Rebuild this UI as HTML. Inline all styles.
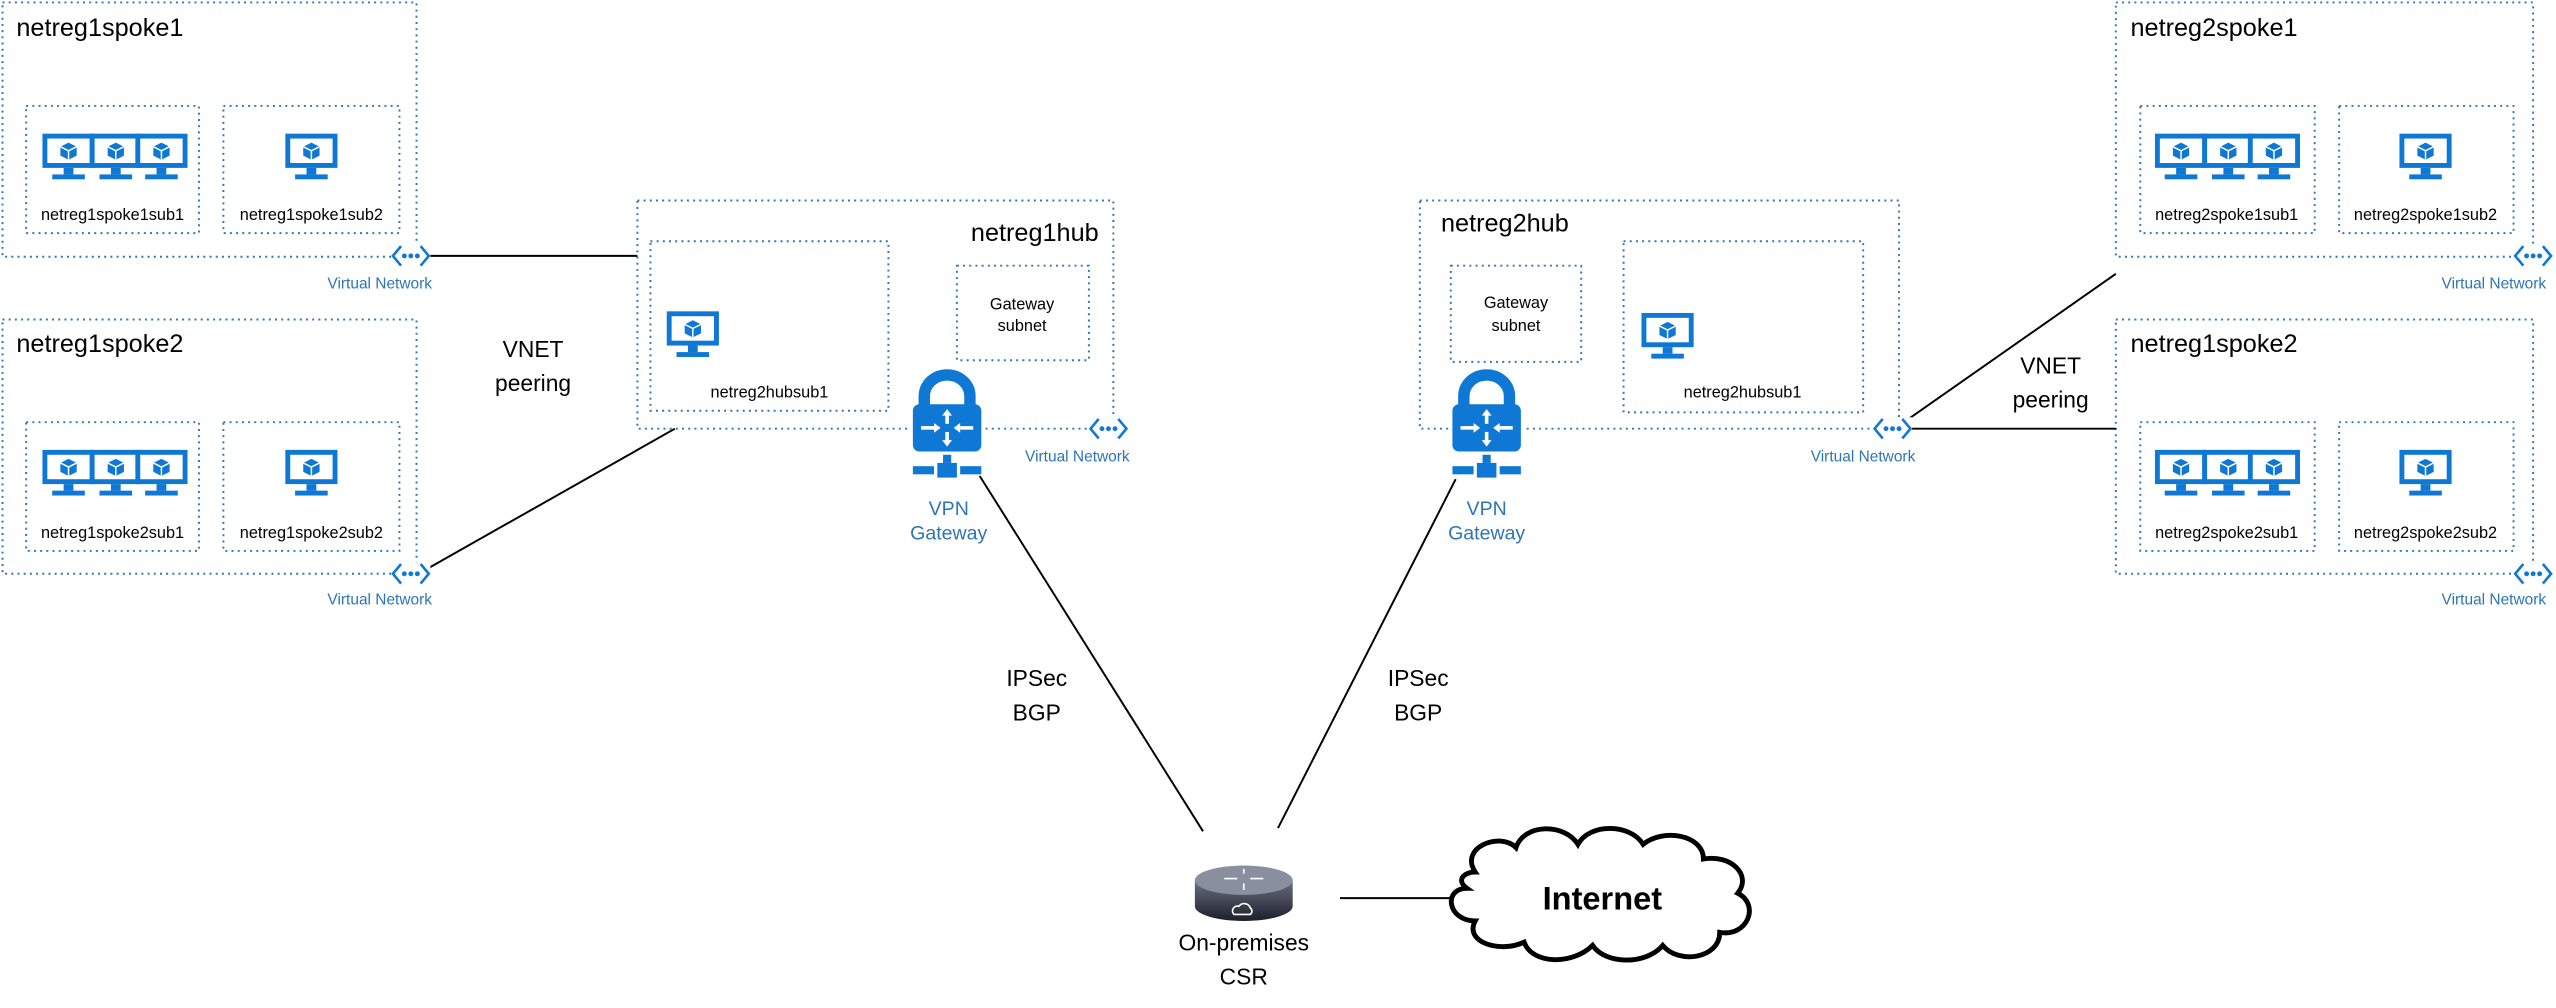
<!DOCTYPE html>
<html><head><meta charset="utf-8"><style>
html,body{margin:0;padding:0;background:#fff;}
svg{display:block;}
text{font-family:"Liberation Sans",sans-serif;}
</style></head><body>
<svg width="2556" height="1008" viewBox="0 0 1568 618.4" xmlns="http://www.w3.org/2000/svg">
<defs>
<g id="mon">
  <rect x="0" y="0" width="32" height="21" fill="#0f78d4"/>
  <rect x="3" y="3" width="26" height="15" fill="#fff"/>
  <polygon points="16,5.5 21,8 21,13.5 16,16 11,13.5 11,8" fill="#0f78d4"/>
  <polyline points="11,8 16,10.5 21,8" fill="none" stroke="#fff" stroke-width="0.9"/>
  <line x1="16" y1="10.5" x2="16" y2="16" stroke="#fff" stroke-width="0.9"/>
  <rect x="13" y="21" width="6" height="4" fill="#0f78d4"/>
  <rect x="6" y="25" width="20" height="3" fill="#0f78d4"/>
</g>
<g id="mon3">
  <use href="#mon" x="0" y="0"/>
  <use href="#mon" x="29" y="0"/>
  <use href="#mon" x="57" y="0"/>
</g>
<g id="vn">
  <polyline points="-6,-6 -11,0 -6,6" fill="none" stroke="#0f78d4" stroke-width="1.6"/>
  <polyline points="6,-6 11,0 6,6" fill="none" stroke="#0f78d4" stroke-width="1.6"/>
  <circle cx="-4" cy="0" r="1.5" fill="#0f78d4"/>
  <circle cx="0" cy="0" r="1.5" fill="#0f78d4"/>
  <circle cx="4" cy="0" r="1.5" fill="#0f78d4"/>
</g>
<g id="lock">
  <path d="M-14,20 L-14,13 A14,13 0 0 1 14,13 L14,20" fill="none" stroke="#0f78d4" stroke-width="7"/>
  <rect x="-21" y="18" width="42" height="29" rx="4" fill="#0f78d4"/>
  <g stroke="#fff" stroke-width="2.2" fill="#fff">
    <line x1="0" y1="24" x2="0" y2="30"/><polygon points="-3,25 3,25 0,21" stroke="none"/>
    <line x1="0" y1="35" x2="0" y2="41"/><polygon points="-3,40 3,40 0,44" stroke="none"/>
    <line x1="-16" y1="32.5" x2="-8" y2="32.5"/><polygon points="-8,29.5 -8,35.5 -4,32.5" stroke="none"/>
    <line x1="16" y1="32.5" x2="8" y2="32.5"/><polygon points="8,29.5 8,35.5 4,32.5" stroke="none"/>
  </g>
  <rect x="-2.5" y="49" width="5" height="5" fill="#0f78d4"/>
  <rect x="-6" y="54" width="12" height="9" fill="#0f78d4"/>
  <rect x="-21" y="56" width="13" height="5" fill="#0f78d4"/>
  <rect x="8" y="56" width="13" height="5" fill="#0f78d4"/>
</g>
</defs>

<g fill="none" stroke="#2e75b6" stroke-width="1.2" stroke-dasharray="1.2 2.6">
  <rect x="1.5" y="1.5" width="254" height="156"/>
  <rect x="16" y="65" width="106" height="78"/>
  <rect x="137" y="65" width="108" height="78"/>
  <rect x="1.5" y="196" width="254" height="156"/>
  <rect x="16" y="259" width="106" height="79"/>
  <rect x="137" y="259" width="108" height="79"/>
  <rect x="391" y="123" width="292" height="140"/>
  <rect x="399" y="148" width="146" height="104"/>
  <rect x="587" y="163" width="81" height="58"/>
  <rect x="871" y="123" width="294" height="140"/>
  <rect x="996" y="148" width="147" height="105"/>
  <rect x="890" y="163" width="80" height="59"/>
  <rect x="1298" y="1.5" width="256" height="156"/>
  <rect x="1313" y="65" width="107" height="78"/>
  <rect x="1435" y="65" width="107" height="78"/>
  <rect x="1298" y="196" width="256" height="156"/>
  <rect x="1313" y="259" width="107" height="79"/>
  <rect x="1435" y="259" width="107" height="79"/>
</g>

<g stroke="#000" stroke-width="1.2">
  <line x1="262" y1="157" x2="391" y2="157"/>
  <line x1="262" y1="349" x2="414" y2="263"/>
  <line x1="1168" y1="259" x2="1298" y2="168"/>
  <line x1="1172" y1="263" x2="1298" y2="263"/>
  <line x1="601" y1="292" x2="738" y2="510"/>
  <line x1="893" y1="294" x2="784" y2="508"/>
  <line x1="822" y1="551" x2="893" y2="551"/>
</g>

<use href="#mon3" x="26" y="82"/>
<use href="#mon" x="175" y="82"/>
<use href="#mon3" x="26" y="276"/>
<use href="#mon" x="175" y="276"/>
<use href="#mon3" x="1322" y="82"/>
<use href="#mon" x="1472" y="82"/>
<use href="#mon3" x="1322" y="276"/>
<use href="#mon" x="1472" y="276"/>
<use href="#mon" x="409" y="191"/>
<use href="#mon" x="1007" y="192"/>

<g>
  <rect x="240" y="150" width="24" height="14" fill="#fff"/><use href="#vn" x="252" y="157"/>
  <rect x="240" y="345" width="24" height="14" fill="#fff"/><use href="#vn" x="252" y="352"/>
  <rect x="668" y="256" width="24" height="14" fill="#fff"/><use href="#vn" x="680" y="263"/>
  <rect x="1149" y="256" width="24" height="14" fill="#fff"/><use href="#vn" x="1161" y="263"/>
  <rect x="1542" y="150" width="24" height="14" fill="#fff"/><use href="#vn" x="1554" y="157"/>
  <rect x="1542" y="345" width="24" height="14" fill="#fff"/><use href="#vn" x="1554" y="352"/>
</g>

<rect x="558" y="255" width="46" height="16" fill="#fff"/>
<use href="#lock" x="581" y="230"/>
<rect x="889" y="255" width="46" height="16" fill="#fff"/>
<use href="#lock" x="912" y="230"/>

<g font-size="15.5" fill="#000">
  <text x="10" y="22">netreg1spoke1</text>
  <text x="10" y="216">netreg1spoke2</text>
  <text x="1307" y="22">netreg2spoke1</text>
  <text x="1307" y="216">netreg1spoke2</text>
  <text x="674" y="148" text-anchor="end">netreg1hub</text>
  <text x="884" y="142">netreg2hub</text>
</g>
<g font-size="10" fill="#000" text-anchor="middle">
  <text x="69" y="135">netreg1spoke1sub1</text>
  <text x="191" y="135">netreg1spoke1sub2</text>
  <text x="69" y="330">netreg1spoke2sub1</text>
  <text x="191" y="330">netreg1spoke2sub2</text>
  <text x="1366" y="135">netreg2spoke1sub1</text>
  <text x="1488" y="135">netreg2spoke1sub2</text>
  <text x="1366" y="330">netreg2spoke2sub1</text>
  <text x="1488" y="330">netreg2spoke2sub2</text>
  <text x="472" y="244">netreg2hubsub1</text>
  <text x="1069" y="244">netreg2hubsub1</text>
  <text x="627" y="190">Gateway</text>
  <text x="627" y="203">subnet</text>
  <text x="930" y="189">Gateway</text>
  <text x="930" y="203">subnet</text>
</g>
<g font-size="9.5" fill="#2e75b6" text-anchor="end">
  <text x="265" y="177">Virtual Network</text>
  <text x="265" y="371">Virtual Network</text>
  <text x="693" y="283">Virtual Network</text>
  <text x="1175" y="283">Virtual Network</text>
  <text x="1562" y="177">Virtual Network</text>
  <text x="1562" y="371">Virtual Network</text>
</g>
<g font-size="12" fill="#2e75b6" text-anchor="middle">
  <text x="582" y="316">VPN</text>
  <text x="582" y="331">Gateway</text>
  <text x="912" y="316">VPN</text>
  <text x="912" y="331">Gateway</text>
</g>
<g font-size="14" fill="#000" text-anchor="middle">
  <text x="327" y="219">VNET</text>
  <text x="327" y="240">peering</text>
  <text x="1258" y="229">VNET</text>
  <text x="1258" y="250">peering</text>
  <text x="636" y="421">IPSec</text>
  <text x="636" y="442">BGP</text>
  <text x="870" y="421">IPSec</text>
  <text x="870" y="442">BGP</text>
  <text x="763" y="583">On-premises</text>
  <text x="763" y="604">CSR</text>
</g>

<defs>
  <linearGradient id="rg" x1="0" x2="0" y1="0" y2="1">
    <stop offset="0" stop-color="#6a6f80"/><stop offset="1" stop-color="#1c1f2c"/>
  </linearGradient>
</defs>
<path d="M733,540 L733,556 A30,9 0 0 0 793,556 L793,540 Z" fill="url(#rg)"/>
<ellipse cx="763" cy="540" rx="30" ry="9" fill="#8a8fa0"/>
<g stroke="#fff" stroke-width="1" fill="none">
  <line x1="751" y1="539" x2="759" y2="539"/><line x1="767" y1="539" x2="775" y2="539"/>
  <line x1="763" y1="533" x2="763" y2="536"/><line x1="763" y1="542" x2="763" y2="546"/>
  <path d="M757,561 a3,3 0 0 1 3,-5 a4,4 0 0 1 7,1 a2.5,2.5 0 0 1 0,4 Z"/>
</g>

<path d="M905,535 C895,520 920,510 930,520 C935,505 960,505 968,518 C975,505 1000,505 1008,518 C1020,508 1045,512 1045,527 C1062,524 1075,537 1066,548 C1080,555 1072,575 1055,572 C1055,588 1030,592 1020,580 C1010,592 985,592 977,580 C965,592 940,592 935,578 C920,585 898,578 905,565 C888,565 885,545 900,545 C893,540 898,535 905,535 Z" fill="#fff" stroke="#000" stroke-width="3"/>
<text x="983" y="558" font-size="20" font-weight="bold" text-anchor="middle" fill="#000">Internet</text>
</svg>
</body></html>
